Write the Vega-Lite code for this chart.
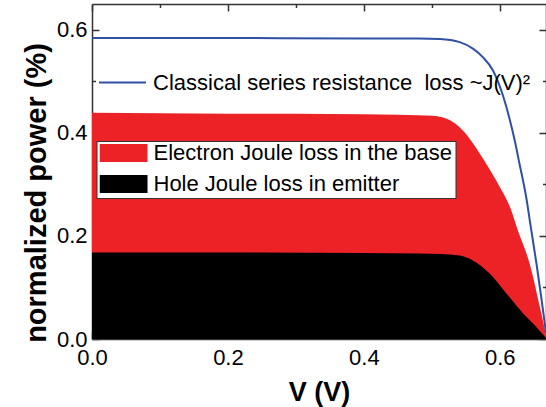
{
  "$schema": "https://vega.github.io/schema/vega-lite/v6.json",
  "width": 454,
  "height": 335,
  "autosize": {"type": "none"},
  "padding": {"left": 92, "top": 4, "right": 0, "bottom": 68},
  "config": {
    "view": {"stroke": null},
    "font": "Liberation Sans",
    "axis": {
      "grid": false,
      "zindex": 1,
      "domainColor": "#333333",
      "domainWidth": 1.5,
      "tickColor": "#333333",
      "tickWidth": 1.5,
      "tickSize": -7,
      "labelColor": "#000000",
      "labelFontSize": 22,
      "labelFlush": false,
      "labelOverlap": false,
      "titleColor": "#000000",
      "titleFontSize": 27,
      "titleFontWeight": "bold"
    },
    "legend": {"labelFont": "Liberation Sans", "labelColor": "#000000"}
  },
  "data": {
    "values": [
      {"s": "e", "V": 0, "P": 0.439},
      {"s": "e", "V": 0.1, "P": 0.438},
      {"s": "e", "V": 0.2, "P": 0.437},
      {"s": "e", "V": 0.3, "P": 0.437},
      {"s": "e", "V": 0.4, "P": 0.436},
      {"s": "e", "V": 0.45, "P": 0.435},
      {"s": "e", "V": 0.48, "P": 0.434},
      {"s": "e", "V": 0.5, "P": 0.433},
      {"s": "e", "V": 0.512, "P": 0.431},
      {"s": "e", "V": 0.531, "P": 0.421},
      {"s": "e", "V": 0.546, "P": 0.404},
      {"s": "e", "V": 0.561, "P": 0.379},
      {"s": "e", "V": 0.58, "P": 0.34},
      {"s": "e", "V": 0.6, "P": 0.295},
      {"s": "e", "V": 0.615, "P": 0.256},
      {"s": "e", "V": 0.6265, "P": 0.211},
      {"s": "e", "V": 0.644, "P": 0.146},
      {"s": "e", "V": 0.659, "P": 0.062},
      {"s": "e", "V": 0.668, "P": 0.008},
      {"s": "h", "V": 0, "P": 0.168},
      {"s": "h", "V": 0.2, "P": 0.168},
      {"s": "h", "V": 0.4, "P": 0.167},
      {"s": "h", "V": 0.48, "P": 0.166},
      {"s": "h", "V": 0.512, "P": 0.165},
      {"s": "h", "V": 0.541, "P": 0.162},
      {"s": "h", "V": 0.561, "P": 0.152},
      {"s": "h", "V": 0.585, "P": 0.127},
      {"s": "h", "V": 0.61, "P": 0.088},
      {"s": "h", "V": 0.634, "P": 0.05},
      {"s": "h", "V": 0.654, "P": 0.023},
      {"s": "h", "V": 0.668, "P": 0.002},
      {"s": "c", "V": 0, "P": 0.584},
      {"s": "c", "V": 0.2, "P": 0.584},
      {"s": "c", "V": 0.4, "P": 0.583},
      {"s": "c", "V": 0.48, "P": 0.583},
      {"s": "c", "V": 0.512, "P": 0.582},
      {"s": "c", "V": 0.541, "P": 0.576},
      {"s": "c", "V": 0.561, "P": 0.563},
      {"s": "c", "V": 0.575, "P": 0.547},
      {"s": "c", "V": 0.59, "P": 0.521},
      {"s": "c", "V": 0.605, "P": 0.471},
      {"s": "c", "V": 0.615, "P": 0.424},
      {"s": "c", "V": 0.622, "P": 0.385},
      {"s": "c", "V": 0.629, "P": 0.34},
      {"s": "c", "V": 0.639, "P": 0.274},
      {"s": "c", "V": 0.646, "P": 0.214},
      {"s": "c", "V": 0.654, "P": 0.146},
      {"s": "c", "V": 0.661, "P": 0.081},
      {"s": "c", "V": 0.668, "P": 0.012}
    ]
  },
  "layer": [
    {
      "transform": [{"filter": "datum.s == 'e'"}],
      "mark": {"type": "area", "interpolate": "monotone", "opacity": 1},
      "encoding": {
        "x": {
          "field": "V", "type": "quantitative",
          "scale": {"domain": [0, 0.668], "nice": false, "zero": false},
          "axis": {
            "orient": "bottom",
            "values": [0, 0.1, 0.2, 0.3, 0.4, 0.5, 0.6],
            "labelExpr": "round(datum.value*10)%2==0 ? format(datum.value,'.1f') : ''",
            "tickDash": {"condition": {"test": "round(datum.value*10)%2==1", "value": [3.5, 20]}, "value": []},
            "labelPadding": 15,
            "title": "V (V)",
            "titleBaseline": "middle",
            "titleY": 53
          }
        },
        "y": {
          "field": "P", "type": "quantitative",
          "scale": {"domain": [0, 0.65], "nice": false},
          "axis": {
            "orient": "left",
            "values": [0, 0.1, 0.2, 0.3, 0.4, 0.5, 0.6],
            "labelExpr": "round(datum.value*10)%2==0 ? format(datum.value,'.1f') : ''",
            "tickDash": {"condition": {"test": "round(datum.value*10)%2==1", "value": [3.5, 20]}, "value": []},
            "labelPadding": 12,
            "title": "normalized power (%)",
            "titleFontSize": 29,
            "titleBaseline": "alphabetic",
            "titleAlign": "center",
            "titleX": -46.5,
            "titleY": 188.5
          }
        },
        "fill": {
          "field": "s", "type": "nominal",
          "scale": {"domain": ["e", "h"], "range": ["#ed2226", "#000000"]},
          "legend": {
            "orient": "none",
            "legendX": 4.5,
            "legendY": 137,
            "title": null,
            "symbolType": "M-1,-0.375H1V0.375H-1Z",
            "symbolSize": 2304,
            "symbolStrokeWidth": 0,
            "symbolOpacity": 1,
            "clipHeight": 18,
            "rowPadding": 9,
            "labelFontSize": 22,
            "labelOffset": 6,
            "labelLimit": 500,
            "padding": 3,
            "strokeColor": "#333333",
            "fillColor": "#ffffff",
            "labelExpr": "datum.label == 'e' ? 'Electron Joule loss in the base' : 'Hole Joule loss in emitter'"
          }
        }
      }
    },
    {
      "transform": [{"filter": "datum.s == 'h'"}],
      "mark": {"type": "area", "interpolate": "monotone", "opacity": 1},
      "encoding": {
        "x": {"field": "V", "type": "quantitative", "axis": null},
        "y": {"field": "P", "type": "quantitative", "axis": null},
        "fill": {"field": "s", "type": "nominal"}
      }
    },
    {
      "transform": [{"filter": "datum.s == 'c'"}],
      "mark": {"type": "line", "interpolate": "monotone", "strokeWidth": 2},
      "encoding": {
        "x": {
          "field": "V", "type": "quantitative",
          "axis": {
            "orient": "top",
            "values": [0, 0.1, 0.2, 0.3, 0.4, 0.5, 0.6],
            "labels": false,
            "title": null,
            "tickDash": {"condition": {"test": "round(datum.value*10)%2==1", "value": [3.5, 20]}, "value": []}
          }
        },
        "y": {
          "field": "P", "type": "quantitative",
          "axis": {
            "orient": "right",
            "values": [0, 0.1, 0.2, 0.3, 0.4, 0.5, 0.6],
            "labels": false,
            "title": null,
            "tickDash": {"condition": {"test": "round(datum.value*10)%2==1", "value": [3.5, 20]}, "value": []}
          }
        },
        "stroke": {
          "field": "s", "type": "nominal",
          "scale": {"domain": ["c"], "range": ["#2f50a4"]},
          "legend": {
            "orient": "none",
            "legendX": 6,
            "legendY": 54,
            "title": null,
            "symbolType": "stroke",
            "symbolSize": 2209,
            "symbolStrokeWidth": 2,
            "labelFontSize": 22,
            "labelOffset": 6,
            "labelLimit": 600,
            "padding": 0,
            "labelExpr": "'Classical series resistance\u00a0 loss ~J(V)²'"
          }
        }
      }
    }
  ],
  "resolve": {"axis": {"x": "independent", "y": "independent"}}
}
